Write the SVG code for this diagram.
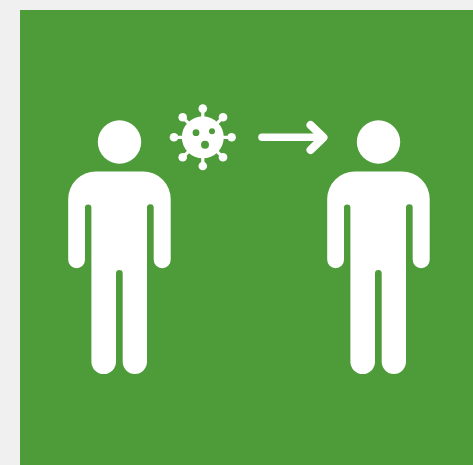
<svg xmlns="http://www.w3.org/2000/svg" width="473" height="465" viewBox="0 0 473 465">
<defs>
<style>
.w{fill:#fff}
.s{stroke:#fff;fill:none;stroke-linecap:round;stroke-linejoin:round}
.h{fill:#4e9c39}
</style>
<g id="person">
<circle class="w" cx="119.5" cy="142" r="21.7"/>
<path class="w" d="M96 171.4H143A27.7 27.7 0 0 1 170.7 199V259.8A8.5 8.5 0 0 1 153.7 259.8V207.6A3.35 3.35 0 0 0 147 207.6V361.8A12.15 12.15 0 0 1 122.7 361.8V273.3A3.35 3.35 0 0 0 116 273.3V361.8A12.3 12.3 0 0 1 91.4 361.8V207.6A3.2 3.2 0 0 0 85 207.6V259.8A8.4 8.4 0 0 1 68.2 259.8V199A27.7 27.7 0 0 1 96 171.4Z"/>
</g>
</defs>
<rect width="473" height="465" fill="#f0f0f0"/>
<rect x="20" y="10" width="453" height="455" fill="#4e9c39"/>
<g id="person-left"><use href="#person"/></g>
<g id="person-right"><use href="#person" x="259"/></g>
<g id="virus">
<circle class="w" cx="202.8" cy="137.3" r="21"/>
<g class="s" stroke-width="3.2">
<path d="M202.8 137.3V109M202.8 137.3V166M202.8 137.3H174M202.8 137.3H232M202.8 137.3L182.7 117.3M202.8 137.3L223 117.3M202.8 137.3L182.7 157.3M202.8 137.3L223 157.3"/>
</g>
<g class="w">
<circle cx="202.8" cy="108.6" r="4.3"/><circle cx="202.8" cy="166" r="4.3"/>
<circle cx="174" cy="137.3" r="4.3"/><circle cx="231.6" cy="137.3" r="4.3"/>
<circle cx="182.7" cy="117.3" r="4.3"/><circle cx="223" cy="117.3" r="4.3"/>
<circle cx="182.7" cy="157.3" r="4.3"/><circle cx="223" cy="157.3" r="4.3"/>
</g>
<circle class="h" cx="196" cy="132.7" r="3.4"/>
<circle class="h" cx="212" cy="131.2" r="3"/>
<circle class="h" cx="205" cy="144.8" r="4"/>
</g>
<g id="connectors">
<path class="s" stroke-width="7.5" d="M262 137.3H323"/>
<path class="s" stroke-width="8" d="M310.5 125L323.5 137.5L310.5 150"/>
</g>
</svg>
